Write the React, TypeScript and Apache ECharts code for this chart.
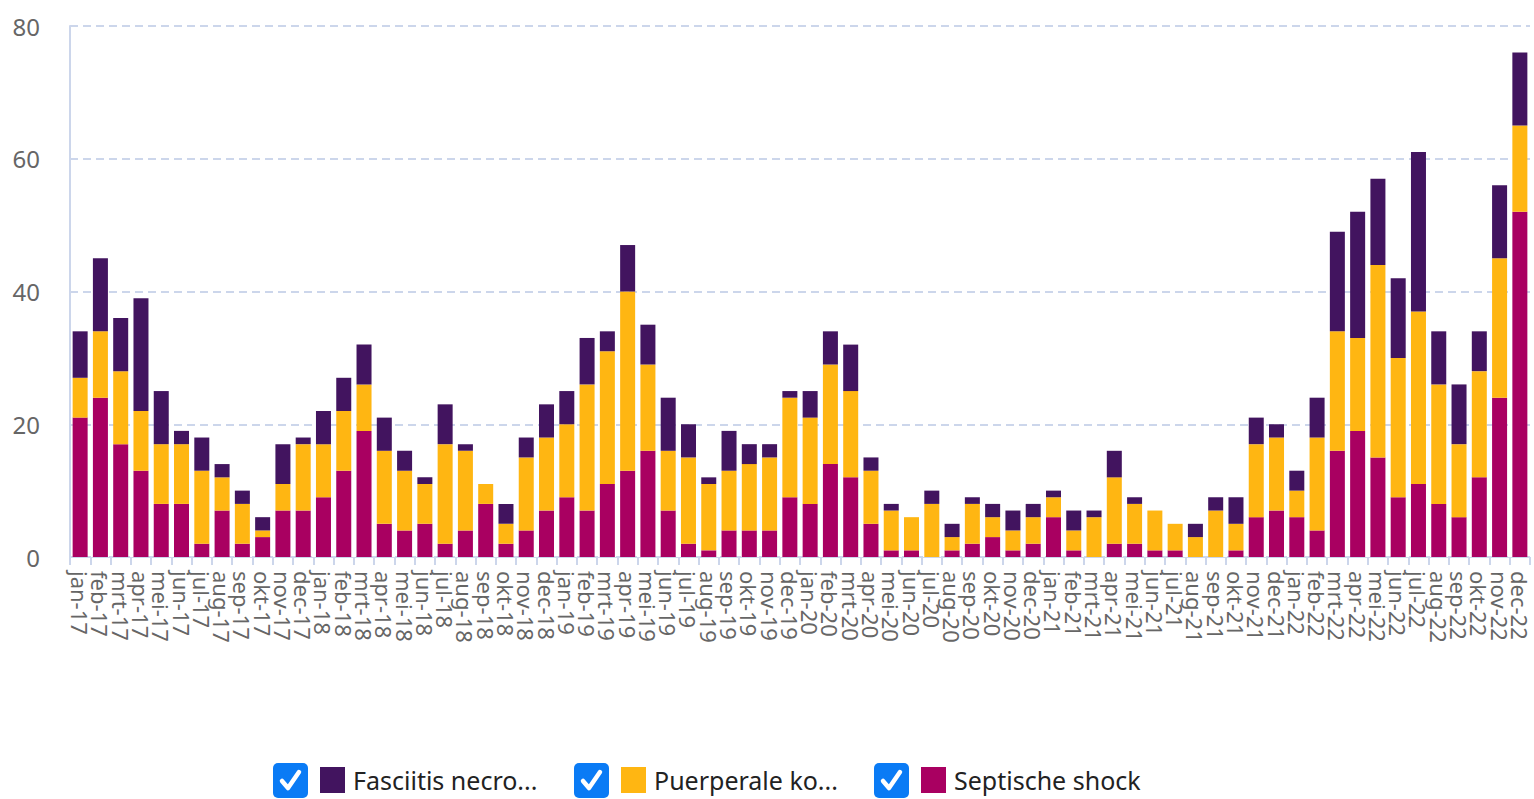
import React, { useEffect, useRef } from "react";
import * as echarts from "echarts";

const months = ["jan", "feb", "mrt", "apr", "mei", "jun", "jul", "aug", "sep", "okt", "nov", "dec"];
const years = ["17", "18", "19", "20", "21", "22"];
const categories: string[] = [];
years.forEach((y) => months.forEach((m) => categories.push(`${m}-${y}`)));

const seriesNames = ["Septische shock", "Puerperale koorts", "Fasciitis necroticans"];
const legendLabels = ["Fasciitis necro...", "Puerperale ko...", "Septische shock"];

// Septische shock (bottom)
const septische = [
  21, 24, 17, 13, 8, 8, 2, 7, 2, 3, 7, 7,
  9, 13, 19, 5, 4, 5, 2, 4, 8, 2, 4, 7,
  9, 7, 11, 13, 16, 7, 2, 1, 4, 4, 4, 9,
  8, 14, 12, 5, 1, 1, 0, 1, 2, 3, 1, 2,
  6, 1, 0, 2, 2, 1, 1, 0, 0, 1, 6, 7,
  6, 4, 16, 19, 15, 9, 11, 8, 6, 12, 24, 52,
];
// Puerperale koorts (middle)
const puerperale = [
  6, 10, 11, 9, 9, 9, 11, 5, 6, 1, 4, 10,
  8, 9, 7, 11, 9, 6, 15, 12, 3, 3, 11, 11,
  11, 19, 20, 27, 13, 9, 13, 10, 9, 10, 11, 15,
  13, 15, 13, 8, 6, 5, 8, 2, 6, 3, 3, 4,
  3, 3, 6, 10, 6, 6, 4, 3, 7, 4, 11, 11,
  4, 14, 18, 14, 29, 21, 26, 18, 11, 16, 21, 13,
];
// Fasciitis necroticans (top)
const fasciitis = [
  7, 11, 8, 17, 8, 2, 5, 2, 2, 2, 6, 1,
  5, 5, 6, 5, 3, 1, 6, 1, 0, 3, 3, 5,
  5, 7, 3, 7, 6, 8, 5, 1, 6, 3, 2, 1,
  4, 5, 7, 2, 1, 0, 2, 2, 1, 2, 3, 2,
  1, 3, 1, 4, 1, 0, 0, 2, 2, 4, 4, 2,
  3, 6, 15, 19, 13, 12, 24, 8, 9, 6, 11, 11,
];

const yTicks = [0, 20, 40, 60, 80];

const colors = { septische: "#A90061", puerperale: "#FFB612", fasciitis: "#42145F" };

function checkbox(x: number, y: number) {
  return {
    type: "group",
    x,
    y,
    children: [
      { type: "rect", shape: { x: 0, y: 0, width: 35, height: 35, r: 5 }, style: { fill: "#0A7BF5" } },
      {
        type: "polyline",
        shape: { points: [[9, 18], [15, 25], [26, 9]] },
        style: { stroke: "#ffffff", lineWidth: 4.5, fill: "none", lineCap: "round", lineJoin: "round" },
      },
    ],
  };
}

export default function App() {
  const ref = useRef<HTMLDivElement>(null);
  useEffect(() => {
    if (!ref.current) return;
    const chart = echarts.init(ref.current, null, { renderer: "svg" });
    const font = "'Noto Sans', 'Open Sans', sans-serif";
    const legendPos = [
      { left: 320, name: seriesNames[2], label: legendLabels[0] },
      { left: 621, name: seriesNames[1], label: legendLabels[1] },
      { left: 921, name: seriesNames[0], label: legendLabels[2] },
    ];
    chart.setOption({
      animation: false,
      color: [colors.septische, colors.puerperale, colors.fasciitis],
      textStyle: { fontFamily: font },
      grid: { left: 70, right: 4, top: 26, bottom: 242, containLabel: false },
      legend: legendPos.map((l) => ({
        data: [l.name],
        left: l.left,
        top: 767,
        padding: 0,
        icon: "rect",
        itemWidth: 25,
        itemHeight: 26,
        selectedMode: false,
        formatter: () => l.label,
        textStyle: { fontSize: 25, color: "#222", fontFamily: font, padding: [0, 0, 0, 3] },
      })),
      graphic: [checkbox(273, 763), checkbox(574, 763), checkbox(874, 763)],
      xAxis: {
        type: "category",
        data: categories,
        axisLine: { show: true, lineStyle: { color: "#ccd6eb", width: 1 } },
        axisTick: { show: true, length: 8, lineStyle: { color: "#ccd6eb", width: 2 } },
        axisLabel: {
          rotate: -90,
          interval: 0,
          margin: 14,
          fontSize: 22,
          lineHeight: 19,
          color: "#666666",
          fontFamily: font,
        },
      },
      yAxis: {
        type: "value",
        min: yTicks[0],
        max: yTicks[yTicks.length - 1],
        interval: 20,
        axisLine: { show: true, lineStyle: { color: "#ccd6eb", width: 2 } },
        axisTick: { show: false },
        axisLabel: { fontSize: 24, color: "#666666", margin: 30, fontFamily: font },
        splitLine: { show: true, lineStyle: { color: "#ccd6eb", width: 2, type: [8, 5] } },
      },
      series: [
        { name: seriesNames[0], type: "bar", stack: "total", data: septische, barCategoryGap: "26%", itemStyle: { color: colors.septische } },
        { name: seriesNames[1], type: "bar", stack: "total", data: puerperale, barCategoryGap: "26%", itemStyle: { color: colors.puerperale } },
        { name: seriesNames[2], type: "bar", stack: "total", data: fasciitis, barCategoryGap: "26%", itemStyle: { color: colors.fasciitis } },
      ],
    });
    return () => chart.dispose();
  }, []);
  return (
    <div
      ref={ref}
      style={{ position: "fixed", left: 0, top: 0, width: 1534, height: 799, background: "#fff" }}
    />
  );
}
